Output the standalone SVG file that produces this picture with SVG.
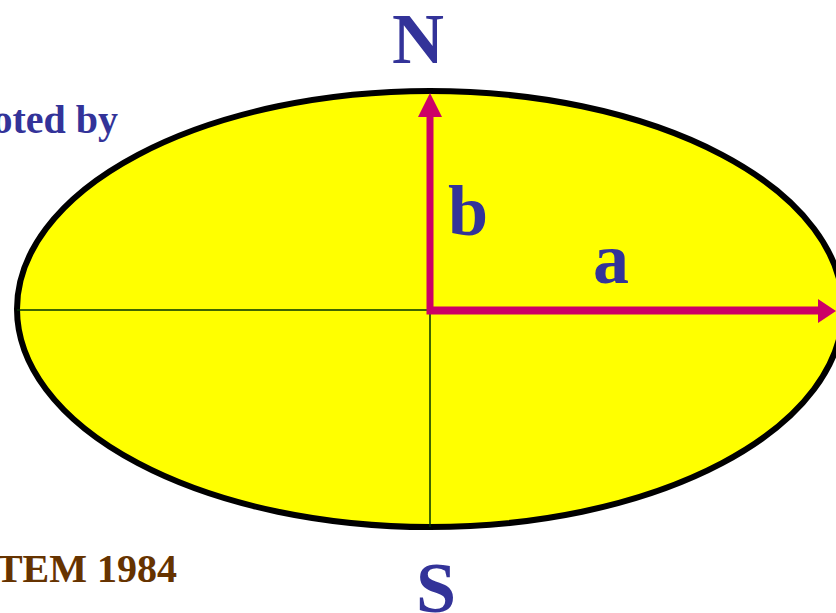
<svg xmlns="http://www.w3.org/2000/svg" width="836" height="613" viewBox="0 0 836 613">
<style>
.t{font-family:"Liberation Serif","Times New Roman",serif;font-weight:bold}
.blue{fill:#333399}
.brown{fill:#663300}
.axis{stroke:#003300;stroke-width:1.5;fill:none}
.arr{fill:#CC0066}
</style>
<rect width="836" height="613" fill="#ffffff"/>
<g id="ellipse">
<ellipse cx="430" cy="309" rx="413" ry="218" fill="#FFFF00" stroke="#000000" stroke-width="6"/>
</g>
<g id="connectors">
<line class="axis" x1="17" y1="310" x2="430" y2="310"/>
<line class="axis" x1="430" y1="310" x2="430" y2="527"/>
<polygon class="arr" points="426.5,313.5 426.5,117 418,117 430,93 442,117 433.5,117 433.5,306.5 818,306.5 818,299 836,311 818,323 818,314.5 426.5,314.5"/>
</g>
<g id="labels">
<text class="t blue" x="418" y="63" font-size="72" text-anchor="middle">N</text>
<text class="t blue" x="436" y="612" font-size="72" text-anchor="middle">S</text>
<text class="t blue" x="468" y="235" font-size="72" text-anchor="middle">b</text>
<text class="t blue" x="611" y="283" font-size="72" text-anchor="middle">a</text>
<text class="t blue" x="118" y="133" font-size="40" text-anchor="end">oted by</text>
<text class="t brown" x="177" y="582" font-size="40" text-anchor="end">TEM 1984</text>
</g>
</svg>
